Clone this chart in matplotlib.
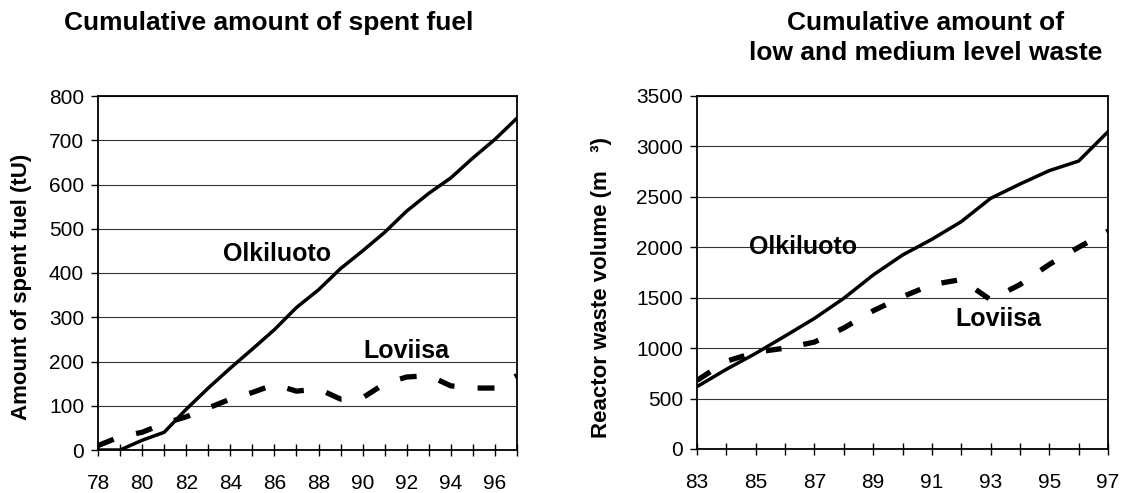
import matplotlib
matplotlib.use("Agg")
import matplotlib.pyplot as plt

plt.rcParams['font.family'] = ['Liberation Sans', 'DejaVu Sans']

# spent fuel, tU
fuel_years = list(range(78, 98))
fuel_olkiluoto = [0, 0, 22, 40, 92, 140, 185, 228, 272, 322, 362, 410, 450, 492, 540, 580, 615, 660, 702, 750]
fuel_loviisa = [10, 30, 40, 60, 75, 95, 115, 130, 148, 133, 138, 115, 118, 150, 165, 168, 145, 140, 140, 168]

# low and medium level waste, m3
waste_years = list(range(83, 98))
waste_olkiluoto = [618, 790, 948, 1120, 1295, 1494, 1725, 1923, 2079, 2254, 2485, 2627, 2760, 2855, 3146]
waste_loviisa = [680, 870, 960, 1000, 1060, 1200, 1370, 1510, 1630, 1680, 1480, 1630, 1830, 2000, 2160]

fig = plt.figure(figsize=(11.23, 4.93), dpi=100)
ax1 = fig.add_axes([98 / 1123, 43 / 493, 419 / 1123, 354 / 493])
ax2 = fig.add_axes([697 / 1123, 44 / 493, 411 / 1123, 353 / 493])


def style(ax, years, ymax, ystep, label_start):
    ax.set_xlim(years[0], years[-1])
    ax.set_ylim(0, ymax)
    ax.set_xticks(years)
    ax.set_xticklabels([str(y) if (y - label_start) % 2 == 0 else '' for y in years])
    ax.set_yticks(range(0, ymax + 1, ystep))
    ax.yaxis.grid(True, color='#333333', linewidth=0.8)
    ax.set_axisbelow(True)
    for s in ax.spines.values():
        s.set_linewidth(1.3)
    ax.tick_params(axis='x', direction='inout', length=9, width=1, labelsize=15, pad=13)
    ax.tick_params(axis='y', direction='out', length=5, width=1, labelsize=15, pad=5)


style(ax1, fuel_years, 800, 100, 78)
style(ax2, waste_years, 3500, 500, 83)

ax1.plot(fuel_years, fuel_olkiluoto, color='black', linewidth=2.5)
l1, = ax1.plot(fuel_years, fuel_loviisa, color='black', linewidth=3.8)
l1.set_dashes([3.2, 4.4])

ax2.plot(waste_years, waste_olkiluoto, color='black', linewidth=2.5)
l2, = ax2.plot(waste_years, waste_loviisa, color='black', linewidth=3.8)
l2.set_dashes([3.0, 4.2])

ax1.text(86.1, 443, 'Olkiluoto', fontsize=18, fontweight='bold', ha='center', va='center')
ax1.text(92.0, 224, 'Loviisa', fontsize=18, fontweight='bold', ha='center', va='center')
ax2.text(86.6, 2006, 'Olkiluoto', fontsize=18, fontweight='bold', ha='center', va='center')
ax2.text(93.27, 1285, 'Loviisa', fontsize=18, fontweight='bold', ha='center', va='center')

fig.text(22 / 1123, 1 - 287 / 493, 'Amount of spent fuel (tU)', rotation=90,
         fontsize=16, fontweight='bold', ha='center', va='center')
fig.text(602 / 1123, 1 - 288 / 493, 'Reactor waste volume (m   ³)', rotation=90,
         fontsize=16, fontweight='bold', ha='center', va='center')

fig.text(269 / 1123, 1 - 23 / 493, 'Cumulative amount of spent fuel',
         fontsize=19, fontweight='bold', ha='center', va='center')
fig.text(926 / 1123, 1 - 38 / 493, 'Cumulative amount of\nlow and medium level waste',
         fontsize=19, fontweight='bold', ha='center', va='center', linespacing=1.3)

fig.savefig('out.png', dpi=100)
